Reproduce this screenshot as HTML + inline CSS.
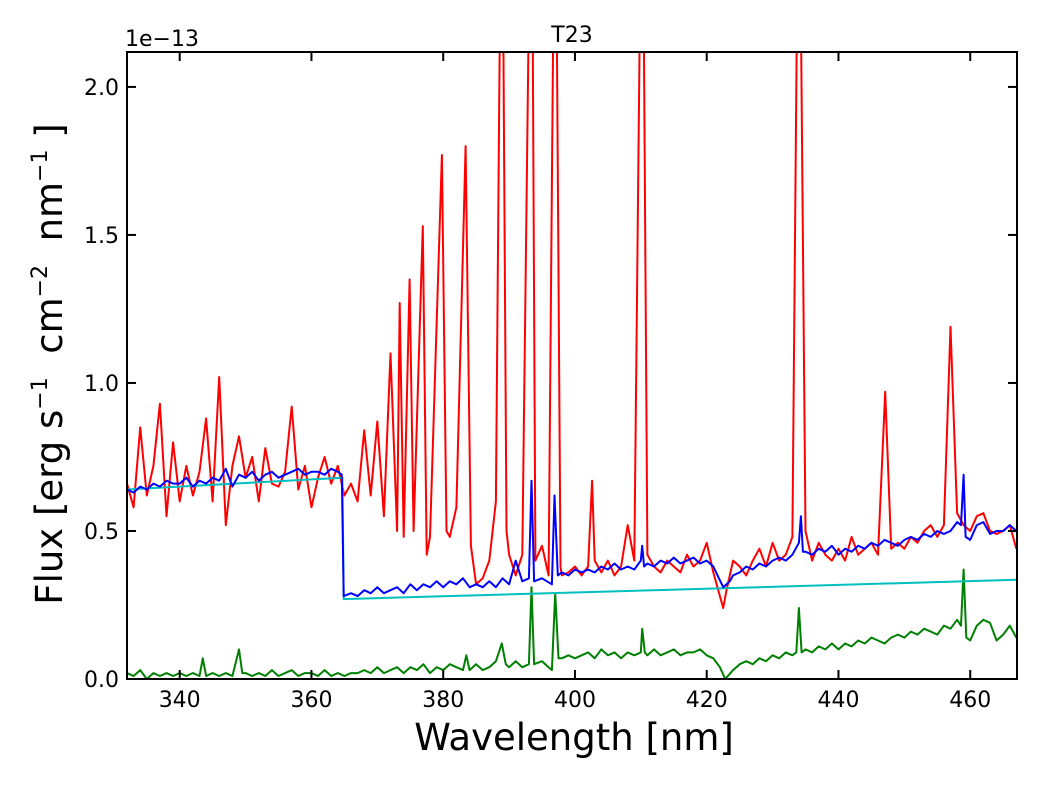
<!DOCTYPE html>
<html><head><meta charset="utf-8"><style>
body{margin:0;background:#fff;}
svg text{font-family:"DejaVu Sans","Liberation Sans",sans-serif;}
</style></head><body>
<svg id="chart" width="1040" height="780" xmlns="http://www.w3.org/2000/svg">
<defs><clipPath id="clip"><rect x="127" y="52" width="890" height="627"/></clipPath></defs>
<rect width="1040" height="780" fill="#fff"/>
<g id="series" clip-path="url(#clip)"></g>
<g id="axes"></g>
<text x="572" y="42" font-size="22" text-anchor="middle">T23</text>
<text x="125" y="46" font-size="22">1e−13</text>
<text x="574" y="750" font-size="37" text-anchor="middle">Wavelength [nm]</text>
<text transform="translate(62,364) rotate(-90)" font-size="37" text-anchor="middle" xml:space="preserve">Flux [erg s<tspan font-size="22" dy="-15">−1</tspan><tspan dy="15">  cm</tspan><tspan font-size="22" dy="-15">−2</tspan><tspan dy="15">  nm</tspan><tspan font-size="22" dy="-15">−1</tspan><tspan dy="15"> ]</tspan></text>
</svg>
<script>
const xTicks=[340,360,380,400,420,440,460];
const yTicks=[0.0,0.5,1.0,1.5,2.0];
const yTickLabels=["0.0","0.5","1.0","1.5","2.0"];
const wlRed=[332,333,334,335,336,337,338,339,340,341,342,343,344,345,346,347,348,349,350,351,352,353,354,355,356,357,358,359,360,361,362,363,364,365,366,367,368,369,370,371,372,373,373.4,374,374.9,375.5,376.9,377.5,378,379.8,380.5,381,382,383.4,384.2,385,386,387,388,388.9,389.6,390,391,392,393.4,394,395,396,397,397.8,398,399,400,401,402,402.6,403,404,405,406,407,408,409,410.2,411,412,413,414,415,416,417,418,419,420,421,422,422.5,423,424,425,426,427,428,429,430,431,432,433,434,435,436,437,438,439,440,441,442,443,444,445,446,447.1,448,449,450,451,452,453,454,455,456,457,458,459,460,461,462,463,464,465,466,467];
const fluxRed=[0.66,0.58,0.85,0.62,0.72,0.93,0.55,0.8,0.6,0.72,0.62,0.70,0.88,0.6,1.02,0.52,0.72,0.82,0.68,0.75,0.6,0.78,0.66,0.65,0.70,0.92,0.64,0.72,0.58,0.68,0.75,0.66,0.72,0.62,0.66,0.6,0.84,0.62,0.87,0.55,1.10,0.5,1.27,0.48,1.35,0.5,1.53,0.42,0.48,1.77,0.5,0.48,0.58,1.80,0.45,0.32,0.34,0.4,0.6,3,0.5,0.42,0.35,0.42,3,0.4,0.45,0.35,3,0.38,0.35,0.36,0.38,0.35,0.38,0.67,0.4,0.36,0.4,0.35,0.38,0.52,0.4,3,0.42,0.38,0.36,0.4,0.38,0.36,0.42,0.38,0.4,0.46,0.36,0.28,0.24,0.3,0.4,0.38,0.35,0.4,0.44,0.38,0.46,0.40,0.42,0.48,3,0.5,0.40,0.46,0.42,0.40,0.44,0.40,0.48,0.42,0.44,0.46,0.42,0.97,0.44,0.46,0.44,0.48,0.46,0.50,0.52,0.48,0.52,1.19,0.56,0.52,0.5,0.55,0.56,0.50,0.49,0.50,0.52,0.44];
const blueSeries=[[332,.64],[333,.63],[334,.65],[335,.64],[336,.66],[337,.65],[338,.67],[339,.66],[340,.66],[341,.68],[342,.65],[343,.67],[344,.66],[345,.68],[346,.67],[347,.71],[348,.65],[349,.69],[350,.68],[351,.70],[352,.67],[353,.69],[354,.70],[355,.68],[356,.69],[357,.70],[358,.71],[359,.69],[360,.70],[361,.70],[362,.69],[363,.71],[364,.70],[364.6,.69],[364.9,.28],[366,.29],[367,.28],[368,.30],[369,.29],[370,.31],[371,.29],[372,.30],[373,.31],[374,.29],[375,.32],[376,.30],[377,.32],[378,.31],[379,.33],[380,.31],[381,.33],[382,.32],[383,.34],[384,.31],[385,.32],[386,.31],[387,.33],[388,.31],[389,.34],[390,.32],[391,.40],[392,.33],[393,.34],[393.4,.67],[393.8,.33],[395,.34],[396.5,.32],[396.9,.62],[397.4,.35],[398,.36],[399,.35],[400,.37],[401,.36],[402,.37],[403,.36],[404,.38],[405,.37],[406,.39],[407,.37],[408,.38],[409,.37],[410,.40],[410.2,.45],[410.5,.38],[411,.39],[412,.38],[413,.40],[414,.39],[415,.41],[416,.39],[417,.40],[418,.41],[419,.39],[420,.40],[421,.38],[422.5,.31],[423.5,.33],[424,.35],[425,.36],[426,.38],[427,.37],[428,.39],[429,.38],[430,.40],[431,.41],[432,.40],[433,.42],[434,.46],[434.3,.55],[434.6,.43],[435,.43],[436,.42],[437,.44],[438,.43],[439,.45],[440,.42],[441,.44],[442,.43],[443,.45],[444,.44],[445,.46],[446,.45],[447,.47],[448,.46],[449,.45],[450,.47],[451,.48],[452,.47],[453,.49],[454,.48],[455,.50],[456,.49],[457,.50],[458,.53],[458.6,.52],[459,.69],[459.3,.48],[460,.47],[461,.52],[462,.53],[463,.49],[464,.50],[465,.50],[466,.52],[467,.50]];
const cyanSeries=[[332,0.64],[364.7,0.68],[364.9,0.27],[467,0.335]];
const greenSeries=[[332,.02],[333,.01],[334,.03],[335,0],[336,.02],[337,.01],[338,.02],[339,.01],[340,.02],[341,.01],[342,.02],[343,.01],[343.5,.07],[344,.01],[345,.02],[346,.01],[347,.02],[348,.01],[349,.1],[349.5,.02],[350,.02],[351,.01],[352,.02],[353,.01],[354,.03],[355,.01],[356,.02],[357,.03],[358,.01],[359,.02],[360,.02],[361,.01],[362,.03],[363,.01],[364,.02],[365,.01],[366,.02],[367,.02],[368,.03],[369,.02],[370,.04],[371,.02],[372,.03],[373,.04],[374,.02],[375,.04],[376,.03],[377,.05],[378,.02],[379,.04],[380,.03],[381,.05],[382,.04],[383,.03],[383.5,.08],[384,.03],[385,.05],[386,.03],[387,.04],[388,.06],[388.9,.12],[389.5,.05],[390,.04],[391,.06],[392,.04],[393,.05],[393.4,.31],[393.8,.05],[395,.06],[396,.04],[396.5,.03],[397,.29],[397.5,.07],[398,.07],[399,.08],[400,.07],[401,.08],[402,.09],[403,.07],[404,.10],[405,.08],[406,.09],[407,.07],[408,.09],[409,.08],[410,.09],[410.2,.17],[410.6,.09],[411,.08],[412,.10],[413,.08],[414,.09],[415,.10],[416,.08],[417,.09],[418,.09],[419,.10],[420,.08],[421,.07],[422,.04],[422.8,0],[424,.03],[425,.05],[426,.06],[427,.05],[428,.07],[429,.06],[430,.08],[431,.07],[432,.09],[433,.08],[433.6,.09],[434,.24],[434.4,.09],[435,.10],[436,.09],[437,.11],[438,.10],[439,.12],[440,.10],[441,.12],[442,.11],[443,.13],[444,.12],[445,.14],[446,.13],[447,.12],[448,.14],[449,.15],[450,.14],[451,.16],[452,.15],[453,.17],[454,.16],[455,.15],[456,.18],[457,.17],[458,.20],[458.6,.18],[459,.37],[459.4,.14],[460,.13],[461,.18],[462,.20],[463,.19],[464,.13],[465,.15],[466,.18],[467,.14]];

const X0=127,X1=1017,Y0=679,Y1=52,XMIN=332,XMAX=467.1,YMIN=0,YMAX=2.118;
function sx(v){return X0+(v-XMIN)/(XMAX-XMIN)*(X1-X0);}
function sy(v){return Y0-(v-YMIN)/(YMAX-YMIN)*(Y0-Y1);}
const NS="http://www.w3.org/2000/svg";
const gS=document.getElementById('series'),gA=document.getElementById('axes');
function line(pts,color,name){
  const p=document.createElementNS(NS,'polyline');
  p.setAttribute('points',pts.map(d=>sx(d[0]).toFixed(1)+','+sy(d[1]).toFixed(1)).join(' '));
  p.setAttribute('fill','none');p.setAttribute('stroke',color);p.setAttribute('stroke-width','2');
  p.setAttribute('stroke-linejoin','round');
  
  
  gS.appendChild(p);
}
line(wlRed.map((w,i)=>[w,fluxRed[i]]),'#ff0000','observed-flux-line');
line(greenSeries,'#008000','residual-flux-line');
line(cyanSeries,'#00bfbf','continuum-line');
line(blueSeries,'#0000ff','model-flux-line');
function el(tag,attrs,parent){const e=document.createElementNS(NS,tag);for(const k in attrs)e.setAttribute(k,attrs[k]);parent.appendChild(e);return e;}
const frame=el('rect',{x:X0,y:Y1,width:X1-X0,height:Y0-Y1,fill:'none',stroke:'#000','stroke-width':2},gA);


xTicks.forEach(t=>{
  const x=sx(t);
  el('line',{x1:x,x2:x,y1:Y0,y2:Y0-9,stroke:'#000','stroke-width':2},gA);
  el('line',{x1:x,x2:x,y1:Y1,y2:Y1+9,stroke:'#000','stroke-width':2},gA);
  const tx=el('text',{x:x,y:Y0+28,'font-size':22,'text-anchor':'middle'},gA);
  tx.textContent=t;
  
  
});
yTicks.forEach((t,i)=>{
  const y=sy(t);
  el('line',{x1:X0,x2:X0+9,y1:y,y2:y,stroke:'#000','stroke-width':2},gA);
  el('line',{x1:X1,x2:X1-9,y1:y,y2:y,stroke:'#000','stroke-width':2},gA);
  const tx=el('text',{x:X0-8,y:y+8,'font-size':22,'text-anchor':'end'},gA);
  tx.textContent=yTickLabels[i];
  
  
});
</script>
</body></html>
